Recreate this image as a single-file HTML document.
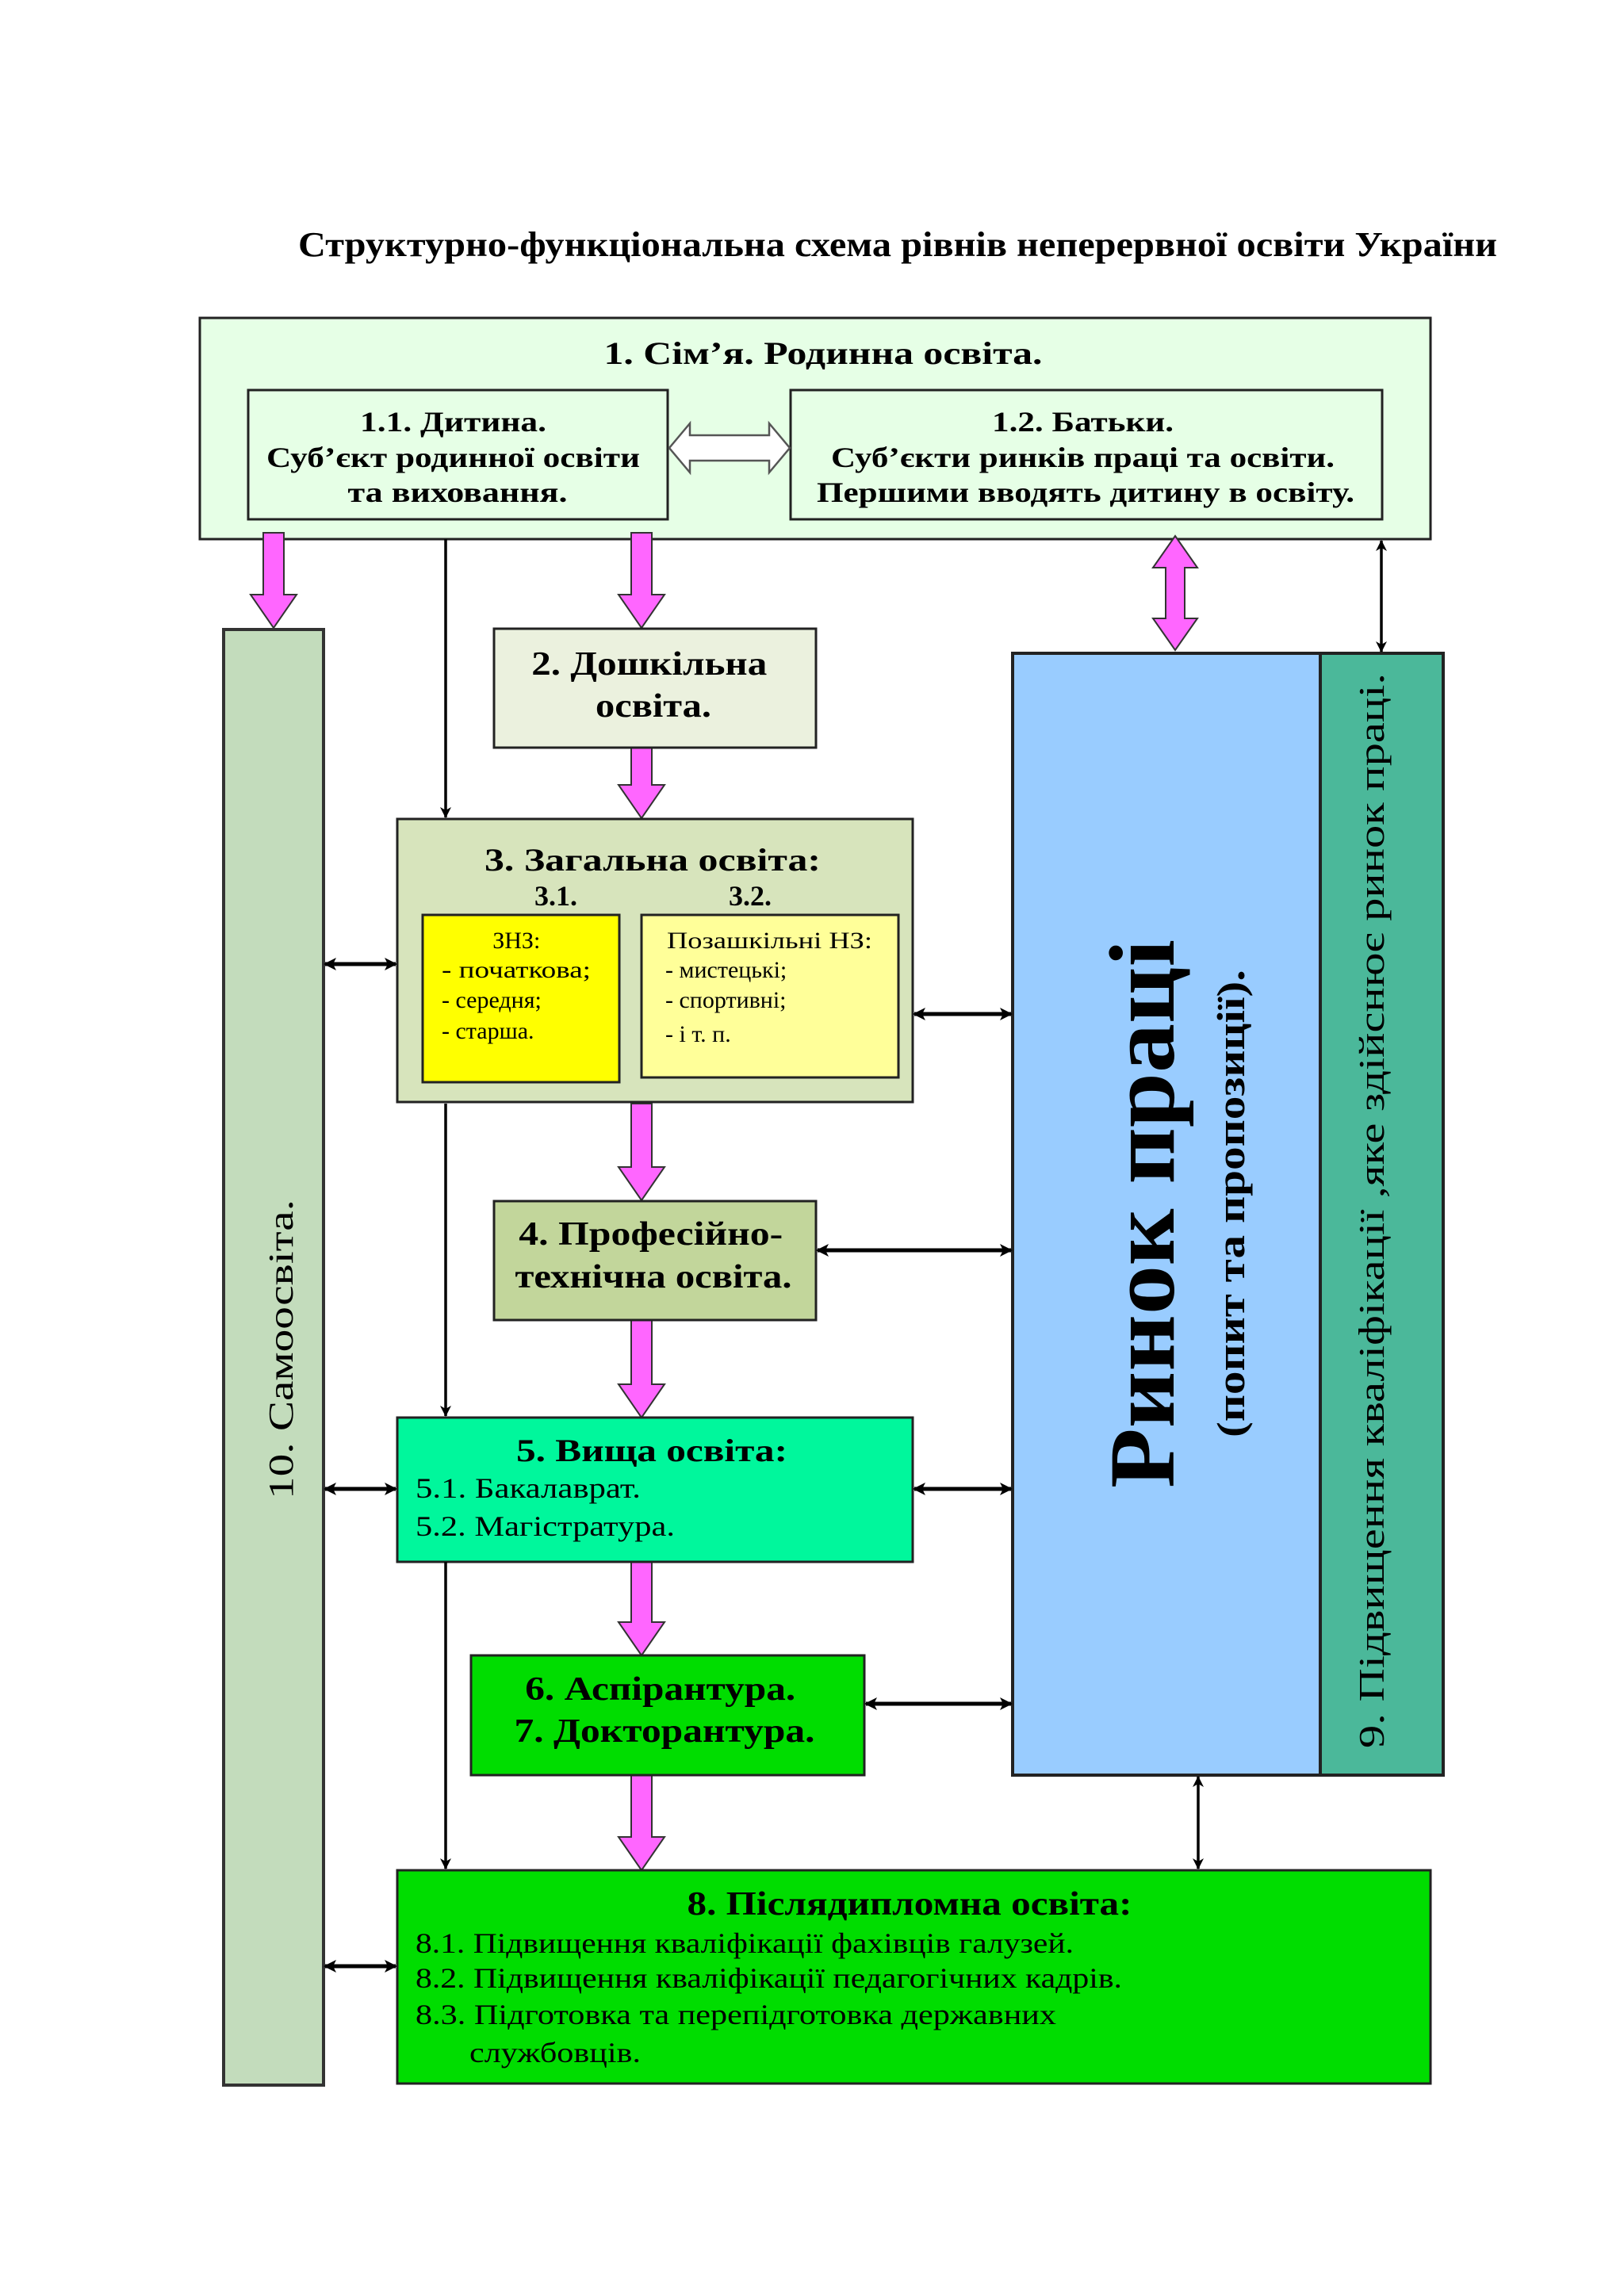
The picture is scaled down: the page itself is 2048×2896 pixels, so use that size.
<!DOCTYPE html>
<html><head><meta charset="utf-8"><style>
html,body{margin:0;padding:0;background:#fff}
svg{display:block}
text{font-family:"Liberation Serif","DejaVu Serif",serif;fill:#000}
.b{font-weight:bold}
</style></head><body>
<svg width="2048" height="2896" viewBox="0 0 2048 2896" xmlns="http://www.w3.org/2000/svg">
<defs>
<marker id="ah" markerWidth="14" markerHeight="14" refX="13" refY="7" orient="auto-start-reverse" markerUnits="userSpaceOnUse" viewBox="0 0 14 14"><path d="M0,0 L14,7 L0,14 L4,7 z" fill="#000"/></marker>
<marker id="ah2" markerWidth="16" markerHeight="16" refX="14" refY="8" orient="auto-start-reverse" markerUnits="userSpaceOnUse" viewBox="0 0 16 16"><path d="M0,0 L16,8 L0,16 L4,8 z" fill="#000"/></marker>
</defs>

<text x="1132" y="323" font-size="44" class="b" text-anchor="middle" textLength="1512" lengthAdjust="spacingAndGlyphs">Структурно-функціональна схема рівнів неперервної освіти України</text>

<rect x="252" y="401" width="1552" height="279" fill="#e6ffe6" stroke="#222" stroke-width="3"/>
<text x="1038" y="459" font-size="40" class="b" text-anchor="middle" textLength="553" lengthAdjust="spacingAndGlyphs">1. Сім’я. Родинна освіта.</text>
<rect x="313" y="492" width="529" height="163" fill="#e6ffe6" stroke="#222" stroke-width="3"/>
<rect x="997" y="492" width="746" height="163" fill="#e6ffe6" stroke="#222" stroke-width="3"/>
<text font-size="36" class="b" text-anchor="middle">
<tspan x="576" y="544" textLength="235" lengthAdjust="spacingAndGlyphs">1.1. Дитина.</tspan>
<tspan x="576" y="589" textLength="471" lengthAdjust="spacingAndGlyphs">Суб’єкт родинної освіти</tspan>
<tspan x="577" y="633" textLength="277" lengthAdjust="spacingAndGlyphs">та виховання.</tspan>
</text>
<text font-size="36" class="b" text-anchor="middle">
<tspan x="1370" y="544" textLength="229" lengthAdjust="spacingAndGlyphs">1.2. Батьки.</tspan>
<tspan x="1370" y="589" textLength="635" lengthAdjust="spacingAndGlyphs">Суб’єкти ринків праці та освіти.</tspan>
<tspan x="1369" y="633" textLength="678" lengthAdjust="spacingAndGlyphs">Першими вводять дитину в освіту.</tspan>
</text>
<path d="M844,565 L870,534 L870,549 L970,549 L970,534 L996,565 L970,596 L970,581 L870,581 L870,596 Z" fill="#fff" stroke="#555" stroke-width="2.5"/>

<g fill="#ff66ff" stroke="#333" stroke-width="2">
<path d="M332,672 L358,672 L358,750 L374,750 L345,792 L316,750 L332,750 Z"/>
<path d="M796,672 L822,672 L822,750 L838,750 L809,792 L780,750 L796,750 Z"/>
<path d="M796,943 L822,943 L822,990 L838,990 L809,1032 L780,990 L796,990 Z"/>
<path d="M796,1392 L822,1392 L822,1472 L838,1472 L809,1514 L780,1472 L796,1472 Z"/>
<path d="M796,1665 L822,1665 L822,1746 L838,1746 L809,1788 L780,1746 L796,1746 Z"/>
<path d="M796,1968 L822,1968 L822,2046 L838,2046 L809,2088 L780,2046 L796,2046 Z"/>
<path d="M796,2239 L822,2239 L822,2317 L838,2317 L809,2359 L780,2317 L796,2317 Z"/>
<path d="M1482,676 L1510,716 L1494,716 L1494,780 L1510,780 L1482,820 L1454,780 L1470,780 L1470,716 L1454,716 Z"/>
</g>

<rect x="282" y="794" width="126" height="1836" fill="#c3dcbc" stroke="#333" stroke-width="4"/>
<text transform="translate(369,1702) rotate(-90)" font-size="44" text-anchor="middle" textLength="378" lengthAdjust="spacingAndGlyphs">10. Самоосвіта.</text>

<rect x="623" y="793" width="406" height="150" fill="#ebf1de" stroke="#222" stroke-width="3"/>
<text font-size="42" class="b" text-anchor="middle">
<tspan x="824" y="851" textLength="297" lengthAdjust="spacingAndGlyphs">2. Дошкільна</tspan>
<tspan x="824" y="904" textLength="146" lengthAdjust="spacingAndGlyphs">освіта.</tspan>
</text>

<rect x="501" y="1033" width="650" height="357" fill="#d7e4bc" stroke="#222" stroke-width="3"/>
<text x="823" y="1098" font-size="40" class="b" text-anchor="middle" textLength="424" lengthAdjust="spacingAndGlyphs">3. Загальна освіта:</text>
<text x="701" y="1142" font-size="36" class="b" text-anchor="middle">3.1.</text>
<text x="946" y="1142" font-size="36" class="b" text-anchor="middle">3.2.</text>
<rect x="533" y="1154" width="248" height="211" fill="#ffff00" stroke="#222" stroke-width="3"/>
<rect x="809" y="1154" width="324" height="205" fill="#ffff99" stroke="#222" stroke-width="3"/>
<text font-size="30">
<tspan x="655" y="1196" text-anchor="middle">ЗНЗ:</tspan>
<tspan x="557" y="1233" textLength="188" lengthAdjust="spacingAndGlyphs">- початкова;</tspan>
<tspan x="557" y="1271">- середня;</tspan>
<tspan x="557" y="1310">- старша.</tspan>
</text>
<text font-size="30">
<tspan x="841" y="1196" textLength="259" lengthAdjust="spacingAndGlyphs">Позашкільні НЗ:</tspan>
<tspan x="839" y="1233">- мистецькі;</tspan>
<tspan x="839" y="1271">- спортивні;</tspan>
<tspan x="839" y="1314">- і т. п.</tspan>
</text>

<rect x="623" y="1515" width="406" height="150" fill="#c2d69b" stroke="#222" stroke-width="3"/>
<text font-size="42" class="b" text-anchor="middle">
<tspan x="826" y="1570" textLength="333" lengthAdjust="spacingAndGlyphs">4. Професійно-</tspan>
<tspan x="824" y="1624" textLength="349" lengthAdjust="spacingAndGlyphs">технічна освіта.</tspan>
</text>

<rect x="501" y="1788" width="650" height="182" fill="#00f79c" stroke="#222" stroke-width="3"/>
<text x="822" y="1843" font-size="40" class="b" text-anchor="middle" textLength="342" lengthAdjust="spacingAndGlyphs">5. Вища освіта:</text>
<text font-size="36">
<tspan x="524" y="1889" textLength="284" lengthAdjust="spacingAndGlyphs">5.1. Бакалаврат.</tspan>
<tspan x="524" y="1937" textLength="327" lengthAdjust="spacingAndGlyphs">5.2. Магістратура.</tspan>
</text>

<rect x="594" y="2088" width="496" height="151" fill="#00dd00" stroke="#222" stroke-width="3"/>
<text font-size="42" class="b" text-anchor="middle">
<tspan x="838" y="2144" textLength="341" lengthAdjust="spacingAndGlyphs">6. Аспірантура.</tspan>
<tspan x="838" y="2197" textLength="379" lengthAdjust="spacingAndGlyphs">7. Докторантура.</tspan>
</text>

<rect x="501" y="2359" width="1303" height="269" fill="#00dd00" stroke="#222" stroke-width="3"/>
<text x="1147" y="2415" font-size="42" class="b" text-anchor="middle" textLength="561" lengthAdjust="spacingAndGlyphs">8. Післядипломна освіта:</text>
<text font-size="36">
<tspan x="524" y="2463" textLength="830" lengthAdjust="spacingAndGlyphs">8.1. Підвищення кваліфікації фахівців галузей.</tspan>
<tspan x="524" y="2507" textLength="891" lengthAdjust="spacingAndGlyphs">8.2. Підвищення кваліфікації педагогічних кадрів.</tspan>
<tspan x="524" y="2553" textLength="808" lengthAdjust="spacingAndGlyphs">8.3. Підготовка та перепідготовка державних</tspan>
<tspan x="592" y="2601" textLength="216" lengthAdjust="spacingAndGlyphs">службовців.</tspan>
</text>

<rect x="1277" y="824" width="388" height="1415" fill="#99ccff" stroke="#222" stroke-width="4"/>
<rect x="1665" y="824" width="155" height="1415" fill="#4bb89a" stroke="#222" stroke-width="4"/>
<text transform="translate(1480,1531) rotate(-90)" font-size="118" class="b" text-anchor="middle" textLength="692" lengthAdjust="spacingAndGlyphs">Ринок праці</text>
<text transform="translate(1569,1518) rotate(-90)" font-size="50" class="b" text-anchor="middle" textLength="590" lengthAdjust="spacingAndGlyphs">(попит та пропозиції).</text>
<text transform="translate(1745,1527) rotate(-90)" font-size="46" text-anchor="middle" textLength="1356" lengthAdjust="spacingAndGlyphs">9. Підвищення кваліфікації ,яке здійснює  ринок праці.</text>

<g stroke="#000" stroke-width="3.5" fill="none">
<line x1="562" y1="680" x2="562" y2="1031" marker-end="url(#ah)"/>
<line x1="562" y1="1392" x2="562" y2="1786" marker-end="url(#ah)"/>
<line x1="562" y1="1970" x2="562" y2="2357" marker-end="url(#ah)"/>
<line x1="1742" y1="682" x2="1742" y2="822" marker-start="url(#ah)" marker-end="url(#ah)"/>
<line x1="1511" y1="2241" x2="1511" y2="2357" marker-start="url(#ah)" marker-end="url(#ah)"/>
</g>
<g stroke="#000" stroke-width="5" fill="none">
<line x1="410" y1="1216" x2="499" y2="1216" marker-start="url(#ah2)" marker-end="url(#ah2)"/>
<line x1="410" y1="1878" x2="499" y2="1878" marker-start="url(#ah2)" marker-end="url(#ah2)"/>
<line x1="410" y1="2480" x2="499" y2="2480" marker-start="url(#ah2)" marker-end="url(#ah2)"/>
<line x1="1153" y1="1279" x2="1275" y2="1279" marker-start="url(#ah2)" marker-end="url(#ah2)"/>
<line x1="1031" y1="1577" x2="1275" y2="1577" marker-start="url(#ah2)" marker-end="url(#ah2)"/>
<line x1="1153" y1="1878" x2="1275" y2="1878" marker-start="url(#ah2)" marker-end="url(#ah2)"/>
<line x1="1092" y1="2149" x2="1275" y2="2149" marker-start="url(#ah2)" marker-end="url(#ah2)"/>
</g>
</svg>
</body></html>
